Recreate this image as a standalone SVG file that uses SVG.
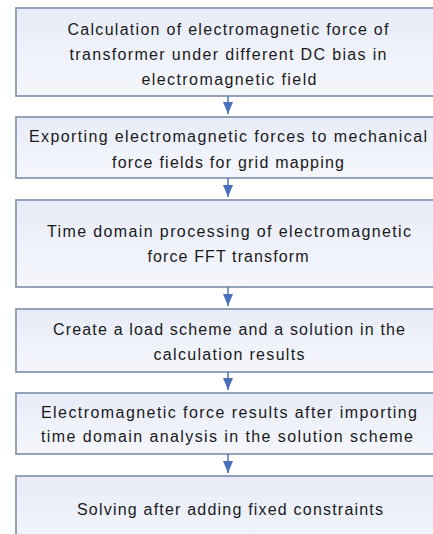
<svg xmlns="http://www.w3.org/2000/svg" width="433" height="534" viewBox="0 0 433 534">
<defs>
<linearGradient id="g" x1="0" y1="0" x2="0" y2="1">
<stop offset="0" stop-color="#e8ecf8"/>
<stop offset="1" stop-color="#f5f7fc"/>
</linearGradient>
<marker id="ah" viewBox="0 0 12 10" refX="12" refY="5" markerWidth="12" markerHeight="10" markerUnits="userSpaceOnUse" orient="auto">
<path d="M0,0 L12,5 L0,10 Z" fill="#4a70bd"/>
</marker>
</defs>
<style>
.box{fill:url(#g);stroke:#8a9ab3;stroke-width:1.8}
.t{font-family:"Liberation Sans",Arial,sans-serif;font-size:16px;fill:#1a1a1a;text-anchor:middle}
.c{stroke:#4a70bd;stroke-width:1.5;fill:none}
</style>
<g id="n1">
<rect class="box" x="16" y="8" width="424" height="88"/>
<text class="t" x="228" y="35" textLength="321" lengthAdjust="spacing">Calculation of electromagnetic force of</text>
<text class="t" x="228" y="60" textLength="317" lengthAdjust="spacing">transformer under different DC bias in</text>
<text class="t" x="229" y="85" textLength="175" lengthAdjust="spacing">electromagnetic field</text>
</g>
<g id="n2">
<rect class="box" x="16" y="117" width="424" height="61"/>
<text class="t" x="228" y="142" textLength="398" lengthAdjust="spacing">Exporting electromagnetic forces to mechanical</text>
<text class="t" x="228" y="168" textLength="232" lengthAdjust="spacing">force fields for grid mapping</text>
</g>
<g id="n3">
<rect class="box" x="16" y="200" width="424" height="87"/>
<text class="t" x="229" y="237" textLength="364" lengthAdjust="spacing">Time domain processing of electromagnetic</text>
<text class="t" x="228" y="262" textLength="161" lengthAdjust="spacing">force FFT transform</text>
</g>
<g id="n4">
<rect class="box" x="16" y="309" width="424" height="63"/>
<text class="t" x="229" y="335" textLength="352" lengthAdjust="spacing">Create a load scheme and a solution in the</text>
<text class="t" x="229" y="360" textLength="151" lengthAdjust="spacing">calculation results</text>
</g>
<g id="n5">
<rect class="box" x="16" y="393" width="424" height="61"/>
<text class="t" x="229" y="418" textLength="376" lengthAdjust="spacing">Electromagnetic force results after importing</text>
<text class="t" x="227" y="442" textLength="372" lengthAdjust="spacing">time domain analysis in the solution scheme</text>
</g>
<g id="n6">
<rect class="box" x="16" y="476" width="424" height="86"/>
<text class="t" x="230" y="515" textLength="306" lengthAdjust="spacing">Solving after adding fixed constraints</text>
</g>
<g id="connectors">
<line class="c" x1="228" y1="96" x2="228" y2="114" marker-end="url(#ah)"/>
<line class="c" x1="228" y1="178" x2="228" y2="197" marker-end="url(#ah)"/>
<line class="c" x1="228" y1="287" x2="228" y2="306" marker-end="url(#ah)"/>
<line class="c" x1="228" y1="372" x2="228" y2="390" marker-end="url(#ah)"/>
<line class="c" x1="228" y1="454" x2="228" y2="473" marker-end="url(#ah)"/>
</g>
</svg>
